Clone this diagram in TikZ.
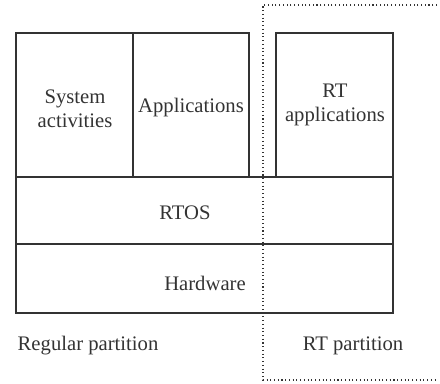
\documentclass[tikz,border=0pt]{standalone}
\usepackage{fontspec}
\setmainfont{Liberation Serif}
\newfontfamily\lblfont{Liberation Serif}
\begin{document}
\begin{tikzpicture}[x=0.75pt,y=-0.75pt,
  blk/.style={draw=black!80,line width=0.9pt,inner sep=0pt},
  lbl/.style={font=\lblfont\fontsize{15.5}{18}\selectfont,text=black!80,align=center},
  part/.style={draw=black!80,line width=0.8pt,dotted}]
\useasboundingbox (0,0) rectangle (440,383);
\draw[blk] (16,33) rectangle (133,177);
\draw[blk] (133,33) rectangle (249,177);
\draw[blk] (276,33) rectangle (393,177);
\draw[blk] (16,177) rectangle (393,244);
\draw[blk] (16,244) rectangle (393,313);
\node[lbl] (sys) at (75,109) {System\\activities};
\node[lbl] (app) at (191,108) {Applications};
\node[lbl] (rtapp) at (335,105) {RT\\applications};
\node[lbl] (rtos) at (185,213) {RTOS};
\node[lbl] (hw) at (205,283) {Hardware};
\node[lbl,anchor=west] (reg) at (13,346) {Regular partition};
\node[lbl] (rtp) at (353,346) {RT partition};
\coordinate (t1) at (437,5);
\coordinate (t2) at (263,5);
\coordinate (b1) at (263,380);
\coordinate (b2) at (437,380);
\draw[part] (t1) -- (t2) -- (b1) -- (b2);
\end{tikzpicture}
\end{document}
